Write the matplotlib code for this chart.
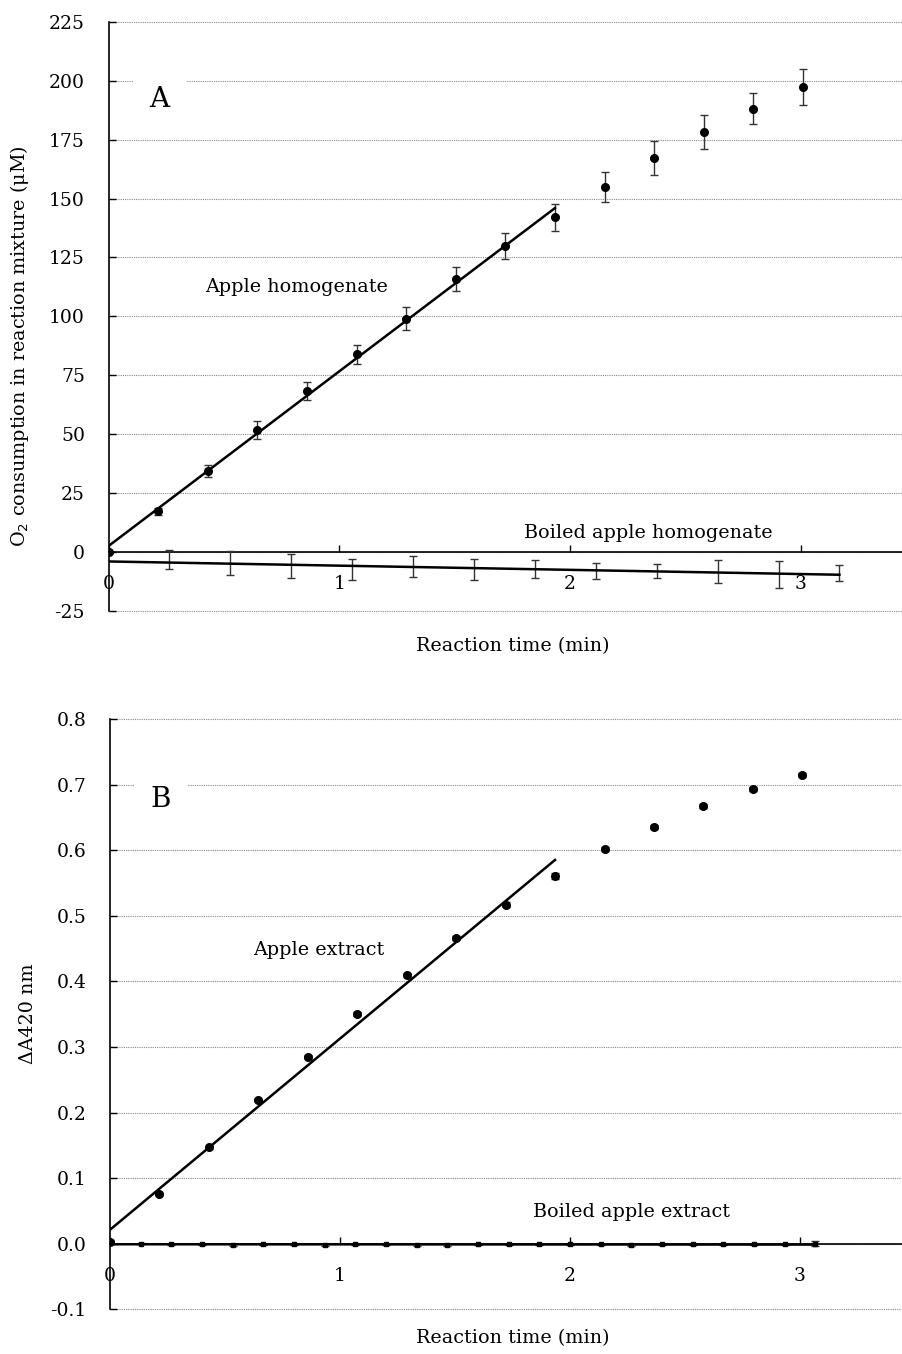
import numpy as np
import matplotlib
matplotlib.use('Agg')
import matplotlib.pyplot as plt

plt.rcParams['font.family'] = ['DejaVu Serif']

# panel A: O2 consumption (uM)
t_apple = np.arange(15) * 0.215
o2_apple = [0, 17.3, 34.3, 51.7, 68.4, 83.8, 99, 115.7, 129.8, 142.1,
            155, 167.3, 178.3, 188.1, 197.3]
o2_apple_err = [0.5, 1.5, 2.6, 3.9, 3.8, 4.2, 4.8, 5.1, 5.6, 5.7,
                6.4, 7.1, 7.1, 6.6, 7.6]

t_boiled = np.arange(1, 13) * 0.264
o2_boiled = [-3.3, -4.7, -6.0, -7.5, -6.1, -7.6, -7.3, -8.1, -8.3, -8.4, -9.6, -9.1]
o2_boiled_err = [4.0, 5.2, 5.0, 4.5, 4.5, 4.5, 4.0, 3.4, 3.0, 4.8, 5.7, 3.5]

# panel B: delta A420
a_apple = [0.003, 0.076, 0.147, 0.219, 0.285, 0.350, 0.410, 0.466, 0.517, 0.561,
           0.602, 0.636, 0.667, 0.693, 0.715]
a_apple_err = [0.002, 0.002, 0.002, 0.002, 0.003, 0.003, 0.003, 0.003, 0.004, 0.004,
               0.003, 0.003, 0.003, 0.003, 0.003]

t_boiled_b = np.arange(24) * 0.1333
a_boiled = [0.002, 0.000, -0.001, -0.001, -0.002, -0.001, -0.001, -0.002, -0.001, -0.001,
            -0.002, -0.002, -0.001, -0.001, -0.001, -0.001, -0.001, -0.002, -0.001, -0.001,
            -0.001, -0.001, -0.001, 0.000]
a_boiled_err = [0.001] * 23 + [0.004]

n_fit = 10
grid_kw = dict(color='#888888', linestyle=(0, (1, 1)), linewidth=0.8)
err_kw = dict(ecolor='#333333', elinewidth=1.0, capsize=3, capthick=1.0)
fs = 13.8


def style_axes(ax, yticks, ylabels):
    ax.set_xlim(0, 3.5)
    ax.set_ylim(yticks[0], yticks[-1])
    ax.spines['top'].set_visible(False)
    ax.spines['right'].set_visible(False)
    ax.spines['bottom'].set_position(('data', 0))
    ax.spines['left'].set_linewidth(1.2)
    ax.spines['bottom'].set_linewidth(1.2)
    ax.set_xticks([0, 1, 2, 3])
    ax.set_xticklabels(['0', '1', '2', '3'])
    ax.set_yticks(yticks)
    ax.set_yticklabels(ylabels)
    ax.tick_params(axis='x', direction='in', length=5, width=1, pad=17, labelsize=13.5)
    ax.tick_params(axis='y', direction='in', length=5, width=1, pad=17, labelsize=13.5)
    for y in yticks:
        ax.axhline(y, zorder=0, clip_on=False, **grid_kw)


fig = plt.figure(figsize=(9.03, 13.54), dpi=100)

# ---- A ----
axA = fig.add_axes([0.1202, 0.5490, 0.8942, 0.4348])
ticksA = [-25, 0, 25, 50, 75, 100, 125, 150, 175, 200, 225]
style_axes(axA, ticksA, [str(v) for v in ticksA])

axA.errorbar(t_apple, o2_apple, yerr=o2_apple_err, fmt='o', color='black',
             markersize=5.5, zorder=3, **err_kw)
pa = np.polyfit(t_apple[:n_fit], o2_apple[:n_fit], 1)
xa = np.array([0, t_apple[n_fit - 1]])
axA.plot(xa, np.polyval(pa, xa), color='black', linewidth=1.8, zorder=4)

axA.errorbar(t_boiled, o2_boiled, yerr=o2_boiled_err, fmt='none', zorder=3, **err_kw)
pb = np.polyfit(t_boiled, o2_boiled, 1)
xb = np.array([0, t_boiled[-1]])
axA.plot(xb, np.polyval(pb, xb), color='black', linewidth=1.8, zorder=4)

axA.text(0.22, 192, 'A', fontsize=20, ha='center', va='center',
         bbox=dict(boxstyle='square,pad=0.6', fc='white', ec='none'), zorder=2)
axA.text(0.813, 112.4, 'Apple homogenate', fontsize=fs, ha='center', va='center')
axA.text(2.339, 8.1, 'Boiled apple homogenate', fontsize=fs, ha='center', va='center')
axA.text(0.5, -0.06, 'Reaction time (min)', fontsize=fs, ha='center', va='center',
         transform=axA.transAxes)
fig.text(20 / 903, 1 - 346 / 1354, 'O$_2$ consumption in reaction mixture (\u03bcM)',
         fontsize=fs, rotation=90, ha='center', va='center')

# ---- B ----
axB = fig.add_axes([0.1218, 0.0330, 0.8915, 0.4358])
ticksB = [-0.1, 0.0, 0.1, 0.2, 0.3, 0.4, 0.5, 0.6, 0.7, 0.8]
style_axes(axB, ticksB, ['%.1f' % v for v in ticksB])

axB.errorbar(t_apple, a_apple, yerr=a_apple_err, fmt='o', color='black',
             markersize=5.5, zorder=3, **err_kw)
pc = np.polyfit(t_apple[:n_fit], a_apple[:n_fit], 1)
axB.plot(xa, np.polyval(pc, xa), color='black', linewidth=1.8, zorder=4)

axB.errorbar(t_boiled_b, a_boiled, yerr=a_boiled_err, fmt='s', color='black',
             markersize=2.5, zorder=3, **err_kw)
pd_ = np.polyfit(t_boiled_b, a_boiled, 1)
xd = np.array([0, t_boiled_b[-1]])
axB.plot(xd, np.polyval(pd_, xd), color='black', linewidth=1.8, zorder=4)

axB.text(0.22, 0.677, 'B', fontsize=20, ha='center', va='center',
         bbox=dict(boxstyle='square,pad=0.6', fc='white', ec='none'), zorder=2)
axB.text(0.906, 0.448, 'Apple extract', fontsize=fs, ha='center', va='center')
axB.text(2.267, 0.049, 'Boiled apple extract', fontsize=fs, ha='center', va='center')
axB.text(0.5, -0.0486, 'Reaction time (min)', fontsize=fs, ha='center', va='center',
         transform=axB.transAxes)
fig.text(28 / 903, 1 - 1014 / 1354, '\u0394A420 nm', fontsize=fs, rotation=90,
         ha='center', va='center')

fig.savefig('out.png', dpi=100)
